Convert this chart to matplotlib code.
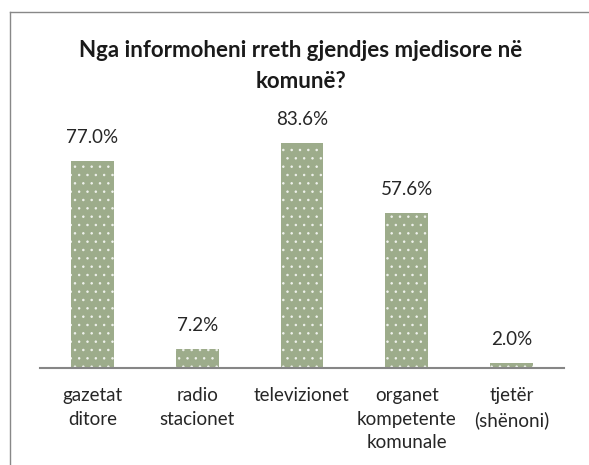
import matplotlib
matplotlib.use("Agg")
import matplotlib.pyplot as plt
from matplotlib.lines import Line2D

categories = ["gazetat\nditore", "radio\nstacionet", "televizionet",
              "organet\nkompetente\nkomunale", "tjetër\n(shënoni)"]
values = [77.0, 7.2, 83.6, 57.6, 2.0]
title = "Nga informoheni rreth gjendjes mjedisore në\nkomunë?"

plt.rcParams['font.family'] = ['Lato', 'DejaVu Sans']
plt.rcParams['hatch.color'] = (1, 1, 1, 0.75)
plt.rcParams['hatch.linewidth'] = 0.6

W, H = 589, 465
fig = plt.figure(figsize=(W / 100, H / 100), dpi=100)
ax = fig.add_axes([40 / W, (H - 368) / H, 524 / W, 269 / H])

x = list(range(len(categories)))
ax.bar(x, values, width=0.41, color='#9dac8b', linewidth=0, hatch='..')
ax.set_xlim(-0.5, len(categories) - 0.5)
ax.set_ylim(0, 100)

for xi, v in zip(x, values):
    ax.annotate(f"{v:.1f}%", (xi, v), xytext=(0, 13), textcoords='offset points',
                ha='center', va='baseline', fontsize=13.5, color='#262626')

ax.set_xticks(x)
ax.set_xticklabels(categories, fontsize=13.5, color='#262626', linespacing=1.45)
ax.tick_params(axis='x', length=0, pad=14)
ax.set_yticks([])
for s in ['left', 'right', 'top']:
    ax.spines[s].set_visible(False)
ax.spines['bottom'].set_color('#868686')
ax.spines['bottom'].set_linewidth(1.5)

fig.text(301 / W, 1 - 40 / H, title, ha='center', va='top', fontsize=16,
         fontweight='bold', color='#1a1a1a', linespacing=1.6)

# chart frame
fig.add_artist(Line2D([9.5 / W, 9.5 / W], [-0.1, 1 - 12.5 / H], transform=fig.transFigure,
                      color='#888888', lw=1.0))
fig.add_artist(Line2D([9.5 / W, 1.1], [1 - 12.5 / H, 1 - 12.5 / H], transform=fig.transFigure,
                      color='#888888', lw=1.0))

fig.savefig("out.png", dpi=100)
